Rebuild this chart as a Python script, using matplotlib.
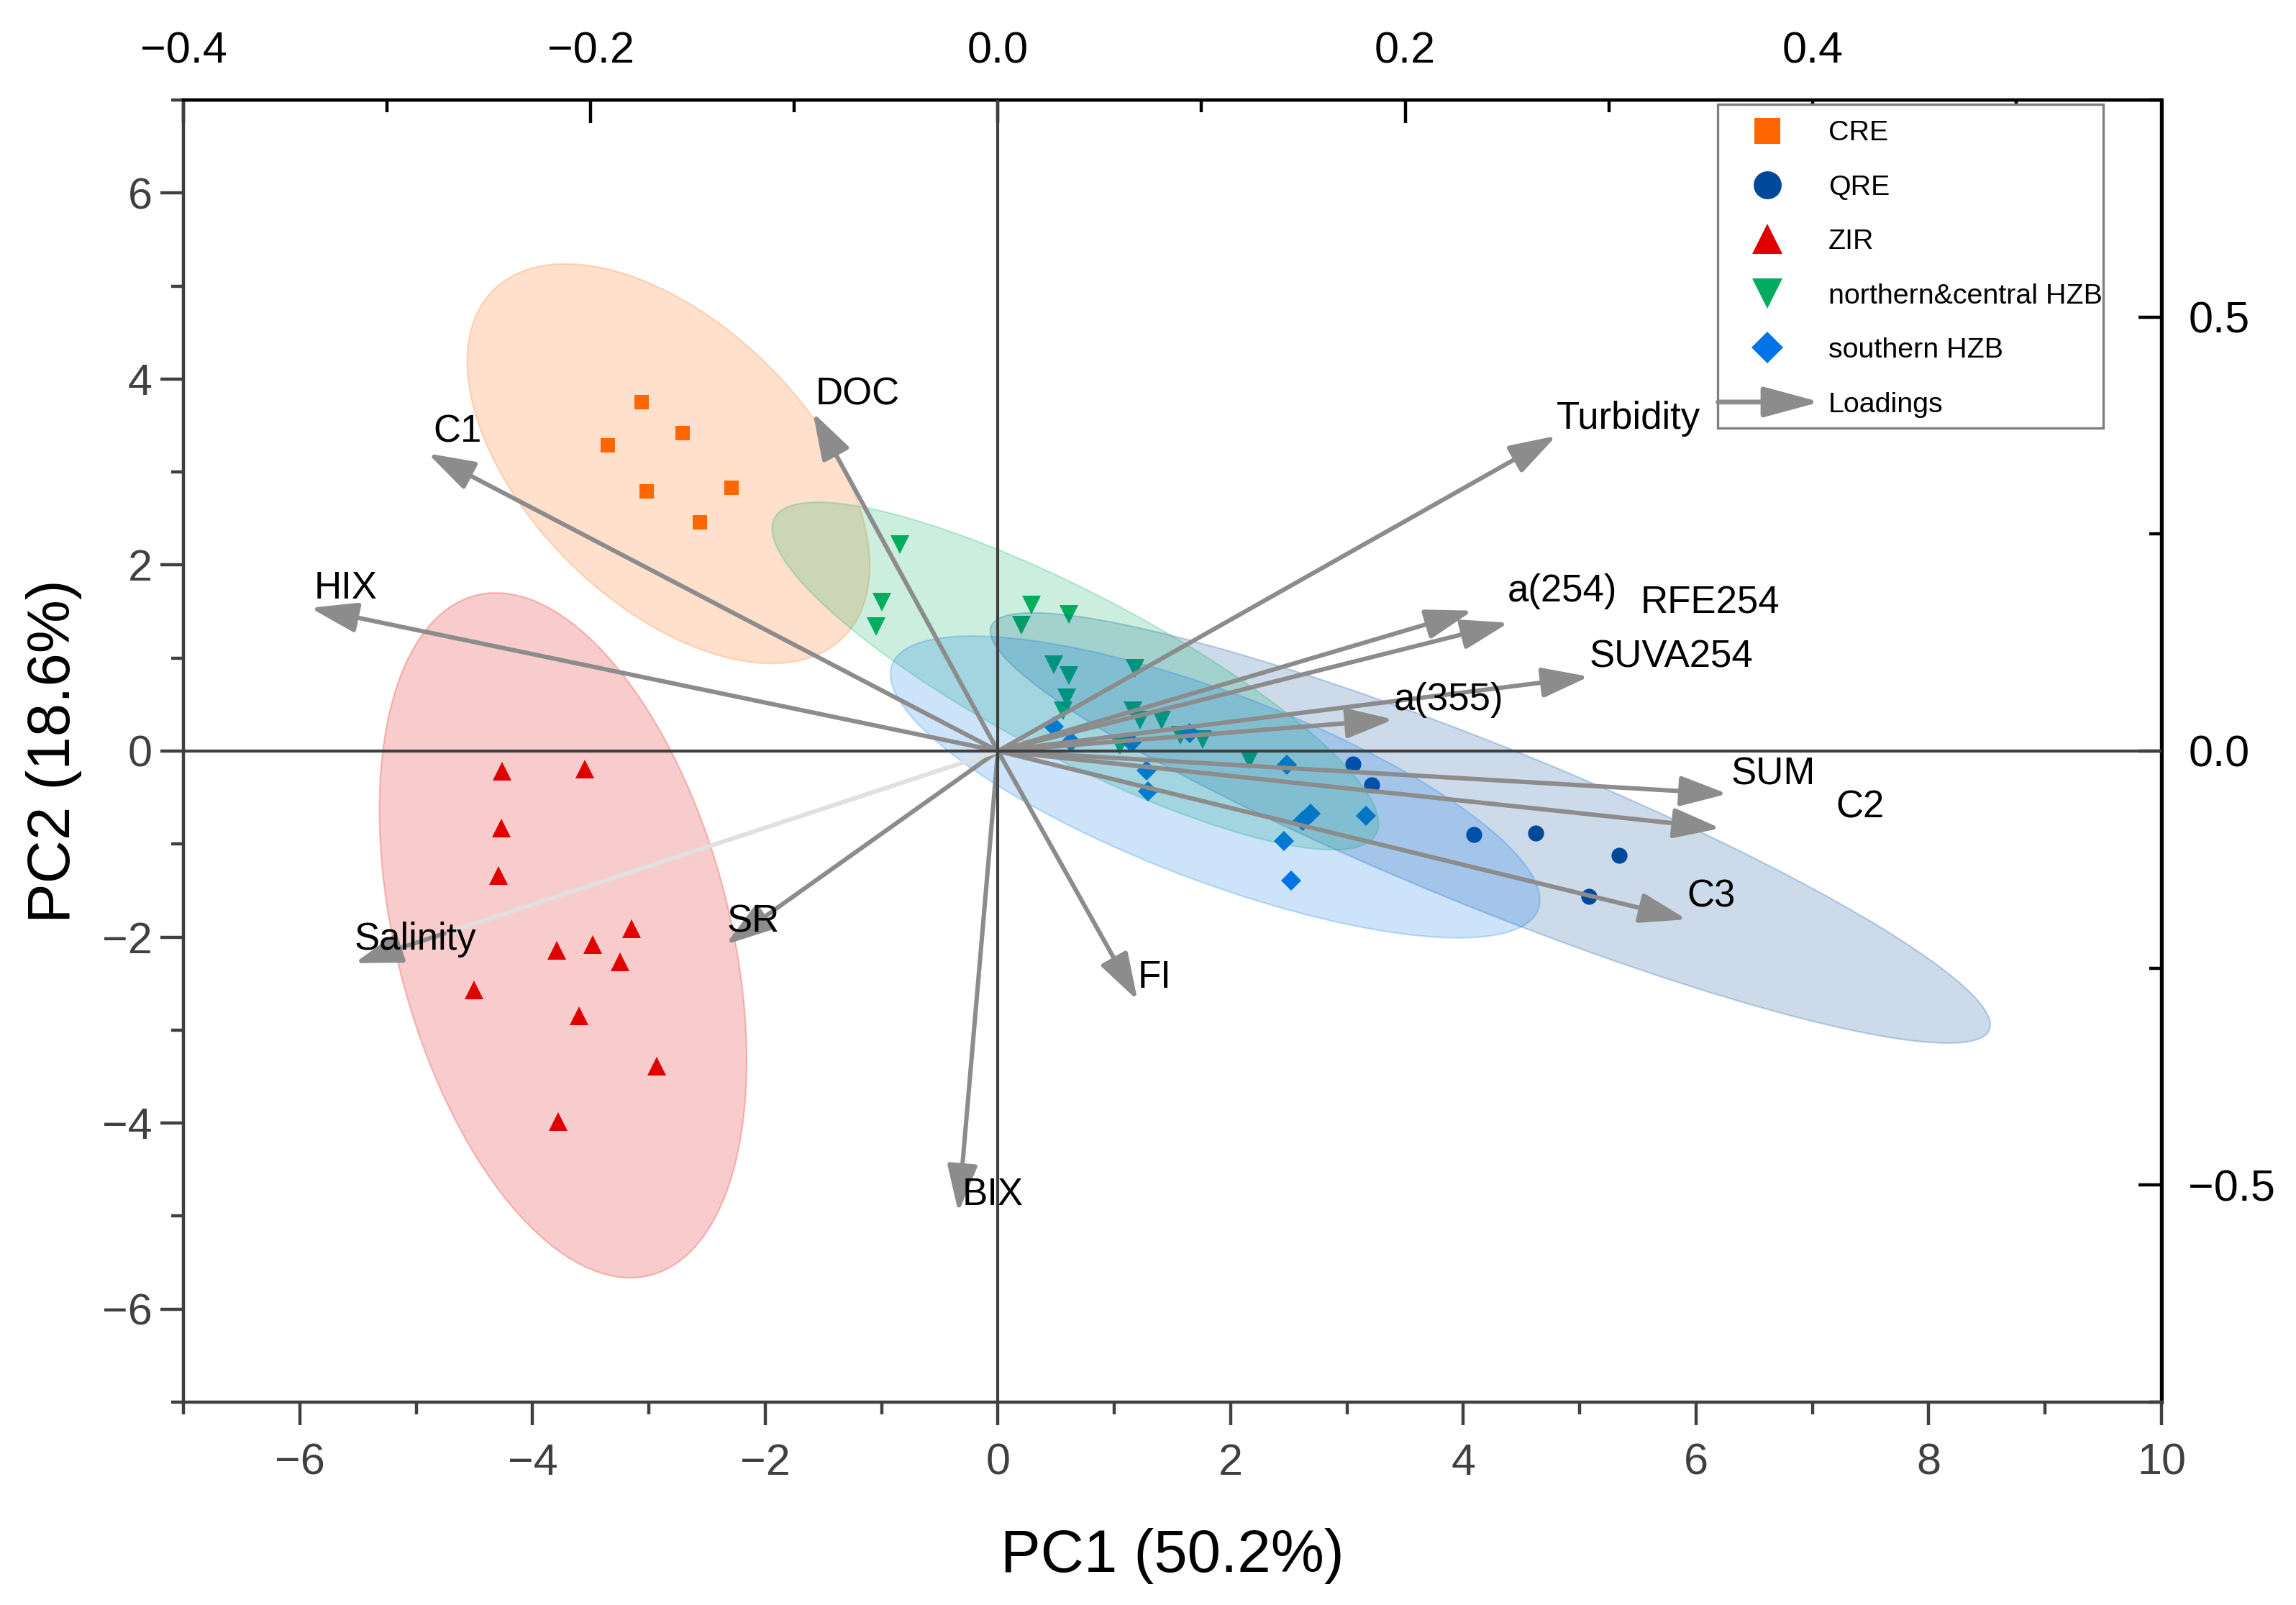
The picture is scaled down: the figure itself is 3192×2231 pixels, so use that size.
import numpy as np
import matplotlib
matplotlib.use("Agg")
import matplotlib.pyplot as plt
from matplotlib.patches import Ellipse, FancyArrowPatch, Rectangle
from matplotlib.lines import Line2D
from matplotlib.legend_handler import HandlerBase
from matplotlib.ticker import MultipleLocator, FuncFormatter

plt.rcParams["font.family"] = ["Liberation Sans", "DejaVu Sans"]

# === Scores (PC1, PC2) per group ===
cre_pc1 = [-3.06, -2.71, -3.35, -3.02, -2.29, -2.56]
cre_pc2 = [3.75, 3.42, 3.29, 2.79, 2.83, 2.46]

qre_pc1 = [3.05, 3.21, 4.09, 4.62, 5.34, 5.08]
qre_pc2 = [-0.14, -0.36, -0.90, -0.88, -1.12, -1.56]

zir_pc1 = [-4.26, -3.55, -4.27, -4.29, -3.15, -3.48, -3.79, -3.25, -4.50, -3.60, -2.93, -3.78]
zir_pc2 = [-0.22, -0.19, -0.83, -1.34, -1.91, -2.08, -2.14, -2.27, -2.57, -2.85, -3.39, -3.98]

nc_pc1 = [-0.84, -1.00, -1.05, 0.29, 0.61, 0.20, 0.48, 0.61, 0.59, 0.56,
          1.18, 1.16, 1.22, 1.41, 1.76, 1.05, 1.57, 2.16]
nc_pc2 = [2.22, 1.60, 1.34, 1.57, 1.47, 1.35, 0.93, 0.81, 0.57, 0.43,
          0.89, 0.43, 0.33, 0.33, 0.12, 0.06, 0.17, -0.09]

s_pc1 = [0.48, 0.63, 1.15, 1.65, 1.28, 1.29, 2.48, 2.69, 2.62, 3.16, 2.46, 2.52]
s_pc2 = [0.26, 0.10, 0.09, 0.19, -0.21, -0.43, -0.15, -0.67, -0.75, -0.70, -0.97, -1.39]

group_names = ["CRE", "QRE", "ZIR", "northern&central HZB", "southern HZB"]
group_x = [cre_pc1, qre_pc1, zir_pc1, nc_pc1, s_pc1]
group_y = [cre_pc2, qre_pc2, zir_pc2, nc_pc2, s_pc2]

# === Loadings (already scaled to score axes) ===
load_names = ["Turbidity", "a(254)", "RFE254", "SUVA254", "a(355)", "SUM", "C2", "C3",
              "FI", "BIX", "SR", "Salinity", "HIX", "C1", "DOC"]
load_x = [4.80, 4.08, 4.39, 5.08, 3.40, 6.27, 6.21, 5.92, 1.20, -0.34, -2.34, -5.53, -5.91, -4.90, -1.59]
load_y = [3.39, 1.51, 1.38, 0.80, 0.34, -0.46, -0.83, -1.81, -2.68, -4.96, -2.08, -2.28, 1.54, 3.20, 3.64]

# label offsets from arrow tips
lab_dx = [0.0, 0.30, 1.13, 0.0, 0.0, 0.03, 0.99, 0.0, 0.0, 0.03, 0.01, 0.0, 0.03, 0.05, 0.02]
lab_dy = [0.18, 0.21, 0.21, 0.21, 0.21, 0.21, 0.22, 0.24, 0.24, 0.19, 0.24, 0.25, 0.21, 0.23, 0.19]

# === Styles ===
colors = ["#FF6600", "#00489A", "#E00000", "#00AD5F", "#0073E6"]
markers = ["s", "o", "^", "v", "D"]
msizes = [7.4, 8.0, 9.4, 9.4, 6.9]
leg_msizes = [13, 14, 15, 15, 11]
arrow_color = "#8c8c8c"


def pred_ellipse(x, y, color):
    # 95% prediction ellipse (F-distribution based, as in Origin)
    x = np.asarray(x)
    y = np.asarray(y)
    n = len(x)
    cov = np.cov(x, y)
    d = n - 2
    f = d / 2 * (0.05 ** (-2 / d) - 1)
    k = 2 * (n - 1) * (n + 1) / (n * d) * f
    vals, vecs = np.linalg.eigh(cov)
    order = vals.argsort()[::-1]
    vals, vecs = vals[order], vecs[:, order]
    angle = np.degrees(np.arctan2(vecs[1, 0], vecs[0, 0]))
    w, h = 2 * np.sqrt(k * vals)
    return Ellipse((x.mean(), y.mean()), w, h, angle=angle,
                   facecolor=matplotlib.colors.to_rgba(color, 0.2),
                   edgecolor=matplotlib.colors.to_rgba(color, 0.22),
                   linewidth=0.8, zorder=3)


class HandlerArrow(HandlerBase):
    def create_artists(self, legend, orig_handle, xdescent, ydescent,
                       width, height, fontsize, trans):
        y = height / 2 - ydescent
        arr = FancyArrowPatch((-xdescent - 0.6 * fontsize, y),
                              (-xdescent + width + 0.7 * fontsize, y),
                              arrowstyle="-|>,head_length=1.0,head_width=0.27",
                              mutation_scale=24, color=arrow_color, lw=2.4,
                              shrinkA=0, shrinkB=0, transform=trans)
        return [arr]


fig = plt.figure(figsize=(15.96, 11.155), dpi=200)
ax = fig.add_axes([0.0799, 0.1264, 0.8615, 0.8113])

for gx, gy, c, m, ms in zip(group_x, group_y, colors, markers, msizes):
    ax.plot(gx, gy, ls="none", marker=m, ms=ms, color=c, mew=0, zorder=2)

for gx, gy, c in zip(group_x, group_y, colors):
    ax.add_patch(pred_ellipse(gx, gy, c))

# loadings arrows
for name, lx, ly, dx, dy in zip(load_names, load_x, load_y, lab_dx, lab_dy):
    if name == "Salinity":
        ax.plot([0, lx * 0.9], [0, ly * 0.9], color="#e0e0e0", lw=2.2,
                solid_capstyle="butt", zorder=5)
        start = (lx * 0.86, ly * 0.86)
    else:
        start = (0, 0)
    ax.add_patch(FancyArrowPatch(start, (lx, ly),
                                 arrowstyle="-|>,head_length=1.0,head_width=0.32",
                                 mutation_scale=20, color=arrow_color, lw=2.2,
                                 shrinkA=0, shrinkB=0, zorder=5))
    ax.text(lx + dx, ly + dy, name, fontsize=19, ha="left", va="center",
            color="black", zorder=7)

ax.axhline(0, color="#404040", lw=1.5, zorder=6)
ax.axvline(0, color="#404040", lw=1.5, zorder=6)

ax.set_xlim(-7, 10)
ax.set_ylim(-7, 7)
ax.xaxis.set_major_locator(MultipleLocator(2))
ax.xaxis.set_minor_locator(MultipleLocator(1))
ax.yaxis.set_major_locator(MultipleLocator(2))
ax.yaxis.set_minor_locator(MultipleLocator(1))
ax.tick_params(which="major", direction="out", length=11.5, width=1.6,
               labelsize=22, color="#404040", labelcolor="#404040")
ax.tick_params(which="minor", direction="out", length=6, width=1.6, color="#404040")
ax.tick_params(axis="x", which="major", pad=9)
ax.tick_params(axis="y", which="major", pad=4)
for side in ["left", "bottom"]:
    ax.spines[side].set_color("#404040")
    ax.spines[side].set_linewidth(1.6)
for side in ["top", "right"]:
    ax.spines[side].set_color("black")
    ax.spines[side].set_linewidth(1.6)

ax.set_xlabel("PC1 (50.2%)", fontsize=30, labelpad=22)
ax.set_ylabel("PC2 (18.6%)", fontsize=30, labelpad=10)


def fmt1(v, pos):
    s = f"{v:.1f}"
    if s == "-0.0":
        s = "0.0"
    return s.replace("-", "\u2212")


# top / right axes show the loading scale, ticks point inward
secx = ax.secondary_xaxis("top", functions=(lambda v: v / 17.5, lambda v: v * 17.5))
secx.xaxis.set_major_locator(MultipleLocator(0.2))
secx.xaxis.set_minor_locator(MultipleLocator(0.1))
secx.xaxis.set_major_formatter(FuncFormatter(fmt1))
secx.tick_params(which="major", direction="in", length=11.5, width=1.6, labelsize=22, pad=14)
secx.tick_params(which="minor", direction="in", length=6, width=1.6)
secx.spines["top"].set_linewidth(1.6)

secy = ax.secondary_yaxis("right", functions=(lambda v: v / 9.3333, lambda v: v * 9.3333))
secy.yaxis.set_major_locator(MultipleLocator(0.5))
secy.yaxis.set_minor_locator(MultipleLocator(0.25))
secy.yaxis.set_major_formatter(FuncFormatter(fmt1))
secy.tick_params(which="major", direction="in", length=11.5, width=1.6, labelsize=22, pad=13.5)
secy.tick_params(which="minor", direction="in", length=6, width=1.6)
secy.spines["right"].set_linewidth(1.8)

# legend: frame drawn as a box, entries placed with ax.legend
ax.add_patch(Rectangle((0.7757, 0.748), 0.1947, 0.2486, transform=ax.transAxes,
                       facecolor="white", edgecolor="#808080", lw=1.2, zorder=9))
handles = [Line2D([], [], ls="none", marker=m, ms=ms, color=c, mew=0)
           for c, m, ms in zip(colors, markers, leg_msizes)]
handles.append(FancyArrowPatch((0, 0), (1, 0)))
labels = group_names + ["Loadings"]
leg = ax.legend(handles, labels, loc="upper left", bbox_to_anchor=(0.7844, 0.9843),
                fontsize=14.2, frameon=False, borderpad=0, labelspacing=1.0,
                handlelength=2.3, handletextpad=1.0, borderaxespad=0,
                handler_map={FancyArrowPatch: HandlerArrow()})
leg.set_zorder(10)

fig.savefig("out.png", dpi=200)
